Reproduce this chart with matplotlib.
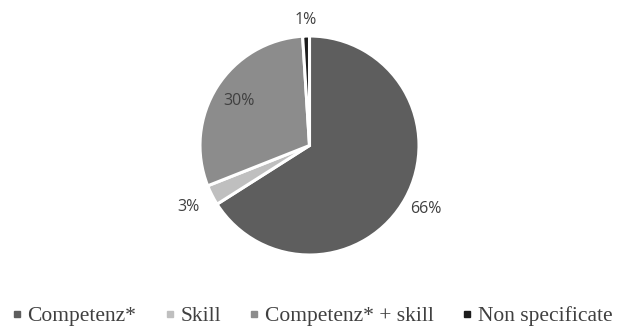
import numpy as np
import matplotlib
matplotlib.use("Agg")
import matplotlib.pyplot as plt
from matplotlib.lines import Line2D

categories = ["Competenz*", "Skill", "Competenz* + skill", "Non specificate"]
values = [66, 3, 30, 1]
colors = ["#5e5e5e", "#bfbfbf", "#8c8c8c", "#1c1c1c"]

W, H = 619, 334
fig = plt.figure(figsize=(W / 100, H / 100), dpi=100)
fig.patch.set_facecolor("white")

cx, cy, r = 309.5, 145.5, 109.5
ax = fig.add_axes([(cx - r) / W, (H - cy - r) / H, 2 * r / W, 2 * r / H])
ax.axis("off")

wedges, _ = ax.pie(values, colors=colors, startangle=90, counterclock=False,
                   radius=1.0, wedgeprops=dict(edgecolor="white", linewidth=2.2))
ax.set_xlim(-1, 1)
ax.set_ylim(-1, 1)
ax.set_aspect("equal")

# percentage labels: outside for most, inside for the 30% slice
label_r = [1.21, 1.24, 0.76, 1.15]
for w, v, lr in zip(wedges, values, label_r):
    ang = np.deg2rad((w.theta1 + w.theta2) / 2)
    ax.text(lr * np.cos(ang), lr * np.sin(ang), f"{v}%", ha="center", va="center",
            fontsize=11.5, color="#404040", family="Open Sans")

handles = [Line2D([], [], marker="s", linestyle="none", markersize=4.4,
                  markerfacecolor=c, markeredgecolor=c) for c in colors]
fig.legend(handles, categories, loc="center", bbox_to_anchor=(313 / W, 1 - 316 / H),
           ncol=4, frameon=False, handlelength=0.3, handletextpad=0.35,
           columnspacing=1.4, borderpad=0, borderaxespad=0,
           prop=dict(family="Liberation Serif", size=15.5),
           labelcolor="#404040")

fig.savefig("out.png", dpi=100, facecolor="white")
